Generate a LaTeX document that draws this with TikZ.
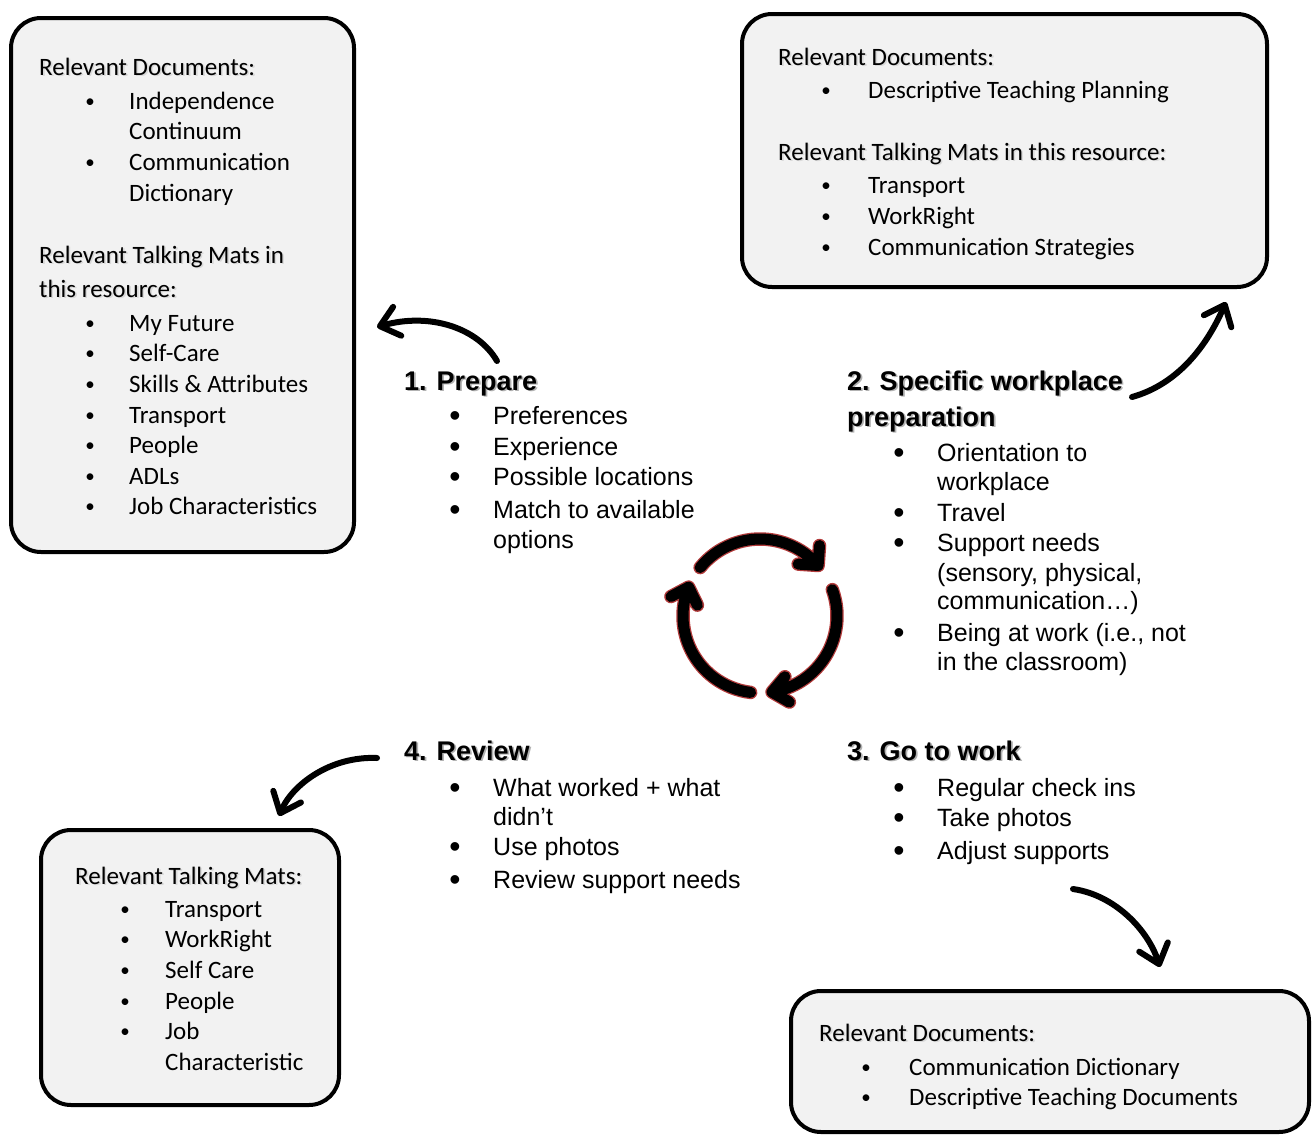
\documentclass[tikz,border=0pt]{standalone}
\usepackage{fontspec}
\setmainfont{Carlito}
\newfontfamily\arialfont{Liberation Sans}
\usetikzlibrary{arrows.meta}
\definecolor{boxfill}{HTML}{F2F2F2}
\definecolor{ringedge}{HTML}{B23B3B}

% text with a soft drop shadow: name, style, position, text, shadow colour
\newcommand\shadowed[5]{%
  \node[#2, text=#5, xshift=1.6pt, yshift=-1.6pt] at #3 {#4};
  \node[#2] (#1) at #3 {#4};}

\begin{document}
\begin{tikzpicture}[x=1pt,y=-1pt,
  card/.style={draw=black, line width=4pt, fill=boxfill, rounded corners=30pt},
  doc/.style={anchor=base west, inner sep=0pt, font=\fontsize{25}{30}\selectfont},
  docbul/.style={anchor=base, inner sep=0pt, yshift=1.5pt, font=\fontsize{19}{30}\selectfont},
  stepline/.style={anchor=base west, inner sep=0pt, font=\arialfont\fontsize{25}{30}\selectfont},
  stepbul/.style={anchor=base, inner sep=0pt, yshift=-2.5pt, font=\arialfont\fontsize{32}{30}\selectfont},
  stephead/.style={anchor=base west, inner sep=0pt, font=\arialfont\bfseries\fontsize{27}{32}\selectfont},
  flow/.style={line width=6pt, line cap=round, -{Straight Barb[length=18pt, width=30pt, round]}},
  ring/.style={line width=11pt, draw=black, line cap=round, line join=round,
    preaction={draw=ringedge, line width=13.5pt, line cap=round, line join=round}}
]
\useasboundingbox (0,0) rectangle (1312,1135);

% ---------- resource cards ----------
\draw[card] (11,18) rectangle (354,552);
\draw[card] (742,14) rectangle (1267,287);
\draw[card] (41,830) rectangle (339,1105);
\draw[card] (791,991) rectangle (1309,1132);

% top-left card
\shadowed{tlh1}{doc}{(39,75)}{Relevant Documents:}{black!15}
\foreach \y in {109,170}
  \node[docbul] at (90,\y) {•};
\foreach \n/\y/\t in {tla/109/Independence, tlb/139/Continuum, tlc/170/Communication, tld/201/Dictionary}
  \node[doc] (\n) at (129,\y) {\t};
\shadowed{tlh2}{doc}{(39,263)}{Relevant Talking Mats in}{black!15}
\shadowed{tlh3}{doc}{(39,297)}{this resource:}{black!15}
\foreach \n/\y/\t in {tle/331/My Future, tlf/361/Self-Care, tlg/392/Skills \& Attributes, tlh/423/Transport, tli/453/People, tlj/484/ADLs, tlk/514/Job Characteristics}{
  \node[docbul] at (90,\y) {•};
  \node[doc] (\n) at (129,\y) {\t};}

% top-right card
\shadowed{trh1}{doc}{(778,65)}{Relevant Documents:}{black!15}
\node[docbul] at (826,98) {•};
\node[doc] (tra) at (868,98) {Descriptive Teaching Planning};
\shadowed{trh2}{doc}{(778,160)}{Relevant Talking Mats in this resource:}{black!15}
\foreach \n/\y/\t in {trb/193/Transport, trc/224/WorkRight, trd/255/Communication Strategies}{
  \node[docbul] at (826,\y) {•};
  \node[doc] (\n) at (868,\y) {\t};}

% bottom-left card
\shadowed{blh}{doc}{(75,884)}{Relevant Talking Mats:}{black!15}
\foreach \n/\y/\t in {bla/917/Transport, blb/947/WorkRight, blc/978/Self Care, bld/1009/People, ble/1039/Job}{
  \node[docbul] at (125,\y) {•};
  \node[doc] (\n) at (165,\y) {\t};}
\node[doc] (blf) at (165,1070) {Characteristic};

% bottom-right card
\shadowed{brh}{doc}{(819,1041)}{Relevant Documents:}{black!15}
\foreach \n/\y/\t in {bra/1075/Communication Dictionary, brb/1105/Descriptive Teaching Documents}{
  \node[docbul] at (866,\y) {•};
  \node[doc] (\n) at (909,\y) {\t};}

% ---------- steps ----------
\shadowed{s1}{stephead}{(404,390)}{1. Prepare}{black!30}
\foreach \y in {424,455,485,518}
  \node[stepbul] at (455,\y) {•};
\foreach \n/\y/\t in {s1a/424/Preferences, s1b/455/Experience, s1c/485/Possible locations, s1d/518/Match to available, s1e/548/options}
  \node[stepline] (\n) at (493,\y) {\t};

\shadowed{s2}{stephead}{(847,390)}{2. Specific workplace}{black!30}
\shadowed{s2x}{stephead}{(847,426)}{preparation}{black!30}
\foreach \y in {461,521,551,641}
  \node[stepbul] at (899,\y) {•};
\foreach \n/\y/\t in {s2a/461/Orientation to, s2b/490/workplace, s2c/521/Travel, s2d/551/Support needs, s2e/581/{(sensory, physical,}, s2f/609/communication…), s2g/641/{Being at work (i.e., not}, s2h/670/in the classroom)}
  \node[stepline] (\n) at (937,\y) {\t};

\shadowed{s4}{stephead}{(404,760)}{4. Review}{black!30}
\foreach \y in {796,855,888}
  \node[stepbul] at (455,\y) {•};
\foreach \n/\y/\t in {s4a/796/What worked + what, s4b/825/didn’t, s4c/855/Use photos, s4d/888/Review support needs}
  \node[stepline] (\n) at (493,\y) {\t};

\shadowed{s3}{stephead}{(847,760)}{3. Go to work}{black!30}
\foreach \n/\y/\t in {s3a/796/Regular check ins, s3b/826/Take photos, s3c/859/Adjust supports}{
  \node[stepbul] at (899,\y) {•};
  \node[stepline] (\n) at (937,\y) {\t};}

% ---------- curved pointers to the cards ----------
\coordinate (p1s) at (497,361);  \coordinate (p1e) at (377,327);
\coordinate (p2s) at (1132,397); \coordinate (p2e) at (1226,302);
\coordinate (p4s) at (377,758);  \coordinate (p4e) at (279,816);
\coordinate (p3s) at (1073,889); \coordinate (p3e) at (1160,967);
\draw[flow] (p1s) .. controls (478,328) and (430,312) .. (p1e);
\draw[flow] (p2s) .. controls (1175,385) and (1205,350) .. (p2e);
\draw[flow] (p4s) .. controls (330,756) and (292,785) .. (p4e);
\draw[flow] (p3s) .. controls (1115,895) and (1148,930) .. (p3e);

% ---------- cycle symbol ----------
\coordinate (cyc) at (760,616);
\draw[ring] (cyc) ++(219:77) arc[start angle=219, end angle=319, radius=77] -- ++(274:20)
  (cyc) ++(319:77) -- ++(184:20);
\draw[ring] (cyc) ++(-20:77) arc[start angle=-20, end angle=81, radius=77] -- ++(30:20)
  (cyc) ++(81:77) -- ++(-50:20);
\draw[ring] (cyc) ++(97:77) arc[start angle=97, end angle=202, radius=77] -- ++(152:20)
  (cyc) ++(202:77) -- ++(64:20);
\end{tikzpicture}
\end{document}
